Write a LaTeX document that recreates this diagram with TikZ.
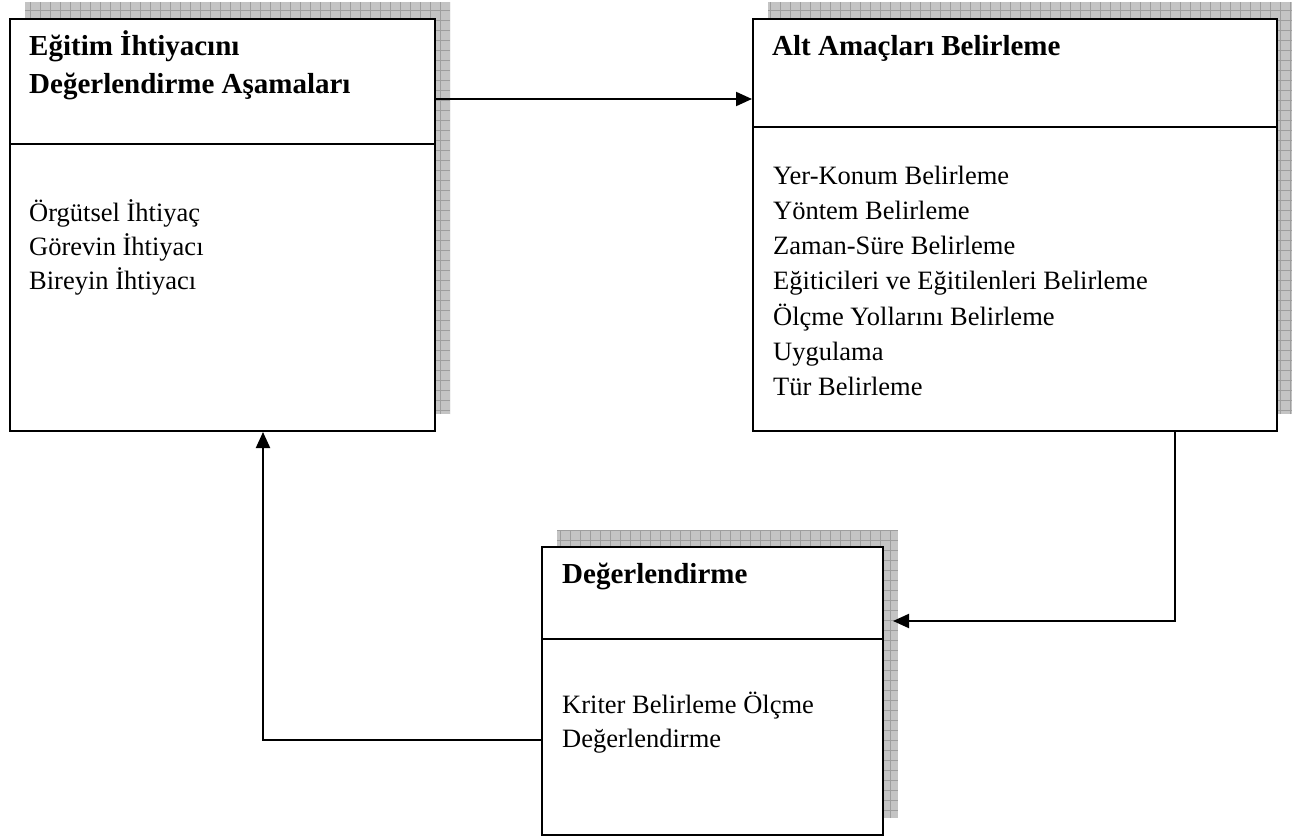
\documentclass[tikz,border=0pt]{standalone}
\usepackage{fontspec}
\setmainfont{Liberation Serif}
\usetikzlibrary{arrows.meta}

\tikzset{
  panel/.style={draw=black, line width=2pt, fill=white, rectangle,
                inner sep=0pt, anchor=north west},
  divider/.style={draw=black, line width=2pt},
  shadowfill/.style={fill=black!23},
  gridline/.style={draw=black!38, line width=0.6pt},
  title/.style={anchor=base west, inner sep=0pt,
                font=\fontsize{29}{37}\selectfont\bfseries},
  item/.style={anchor=base west, inner sep=0pt,
               font=\fontsize{26.5}{34}\selectfont},
  link/.style={draw=black, line width=2pt,
               -{Triangle[length=16pt,width=14pt]}},
}

% hatched drop shadow behind a panel
\newcommand\dropshadow[4]{%
  \fill[shadowfill] (#1,#2) rectangle (#3,#4);
  \begin{scope}
    \clip (#1,#2) rectangle (#3,#4);
    \draw[gridline, step=10pt] (#1,#2) grid (#3,#4);
  \end{scope}}

\begin{document}
\begin{tikzpicture}[x=1pt, y=-1pt]
\useasboundingbox (0,0) rectangle (1300,837);

% shadows
\dropshadow{25}{2}{450}{414}
\dropshadow{768}{2}{1292}{414}
\dropshadow{557}{530}{898}{818}

% panels
\node[panel, minimum width=425pt, minimum height=412pt] (b1) at (9,18) {};
\node[panel, minimum width=524pt, minimum height=412pt] (b2) at (752,18) {};
\node[panel, minimum width=341pt, minimum height=288pt] (b3) at (541,546) {};

% header separators
\draw[divider] (9,144) -- (434,144);
\draw[divider] (752,127) -- (1276,127);
\draw[divider] (541,639) -- (882,639);

% headers
\node[title] (t1a) at (29,56) {Eğitim İhtiyacını};
\node[title] (t1b) at (29,94) {Değerlendirme Aşamaları};
\node[title] (t2) at (772,56) {Alt Amaçları Belirleme};
\node[title] (t3) at (562,583) {Değerlendirme};

% contents
\foreach \t [count=\i] in {Örgütsel İhtiyaç, Görevin İhtiyacı, Bireyin İhtiyacı}
  \node[item, name=l1-\i] at (29,{221+34.3*(\i-1)}) {\t};

\foreach \t [count=\i] in {Yer-Konum Belirleme, Yöntem Belirleme,
    Zaman-Süre Belirleme, Eğiticileri ve Eğitilenleri Belirleme,
    Ölçme Yollarını Belirleme, Uygulama, Tür Belirleme}
  \node[item, name=l2-\i] at (773,{184.3+35.2*(\i-1)}) {\t};

\node[item] (l3-1) at (562,713) {Kriter Belirleme Ölçme};
\node[item] (l3-2) at (562,747) {Değerlendirme};

% connectors
\path (b1.north east) ++(0,81) coordinate (p1);
\draw[link] (p1) -- (p1 -| b2.west);

\path (b2.south east) ++(-103,0) coordinate (p2);
\path (b3.north east) ++(9,75) coordinate (q2);
\draw[link] (p2) |- (q2);

\path (b3.north west) ++(0,194) coordinate (p3);
\path (b1.south west) ++(254,0) coordinate (q3);
\draw[link] (p3) -| (q3);
\end{tikzpicture}
\end{document}
